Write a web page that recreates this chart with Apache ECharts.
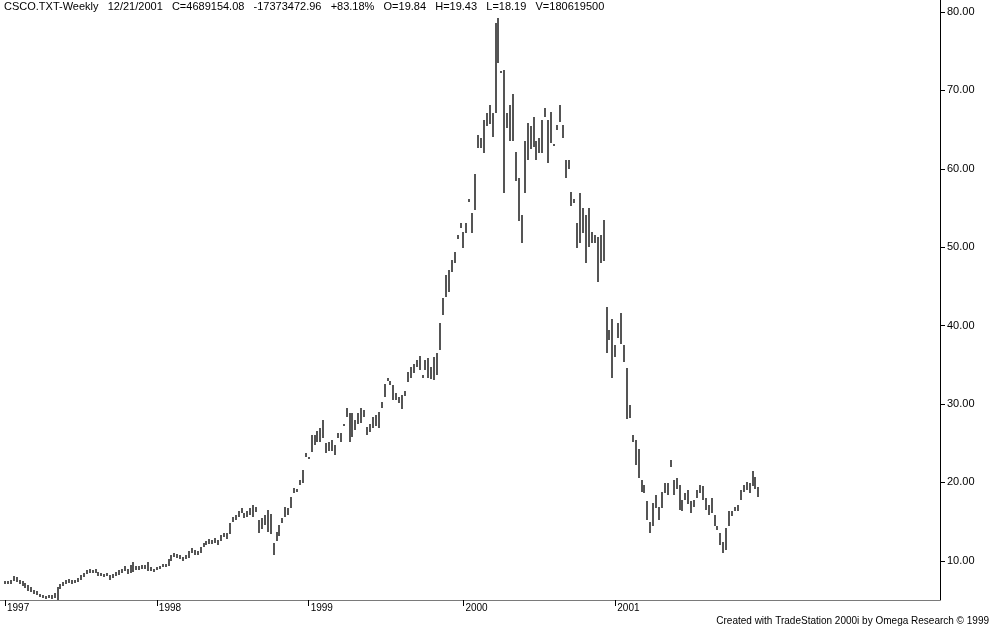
<!DOCTYPE html>
<html><head><meta charset="utf-8">
<script src="https://cdn.jsdelivr.net/npm/echarts@6/dist/echarts.min.js"></script>
<style>html,body{margin:0;padding:0;background:#fff}#c{width:991px;height:631px}</style>
</head><body><div id="c"></div>
<script>
// Year tick labels and the week index (0 = first week of 1997) where each year starts
const yearLabels = ['1997', '1998', '1999', '2000', '2001'];
const yearStartWeek = [0, 52, 104, 157, 209];
const priceTicks = [10, 20, 30, 40, 50, 60, 70, 80];

// Weekly highs (one per week, Jan 1997 .. Dec 2001)
const weekHigh = [
  // 1997
  7.4,7.4,7.6,8.0,7.9,7.6,7.4,7.2,6.9,6.6,
  6.3,6.1,5.8,5.6,5.5,5.7,5.6,5.9,6.6,7.0,
  7.3,7.6,7.7,7.5,7.6,7.8,8.2,8.5,8.8,8.9,
  8.8,8.9,8.6,8.4,8.3,8.4,8.2,8.3,8.6,8.8,
  9.0,9.3,9.0,9.5,9.8,9.4,9.3,9.5,9.5,9.9,
  9.2,9.0,
  // 1998
  9.2,9.3,9.6,9.6,10.2,10.7,11.0,10.9,10.7,10.5,
  10.8,11.2,11.6,11.4,11.2,11.8,12.3,12.5,12.8,12.6,
  12.9,12.7,13.3,13.5,13.5,14.8,15.6,15.9,16.3,16.7,
  16.1,16.3,16.7,17.1,16.9,15.2,15.5,15.9,16.5,16.0,
  12.3,13.7,14.6,15.5,16.9,16.7,18.2,19.3,19.1,20.3,
  21.6,23.8,
  // 1999
  23.3,26.0,26.0,26.5,26.9,28.0,25.0,25.2,25.4,24.8,
  26.3,26.3,27.5,29.5,28.9,28.9,28.0,28.9,29.5,29.2,
  27.1,27.5,28.4,28.6,29.0,30.3,32.5,33.3,32.9,32.4,
  31.4,30.9,31.2,31.7,34.1,34.7,35.1,35.6,36.1,33.7,
  35.6,35.9,34.7,36.0,36.5,40.3,43.5,46.4,47.1,48.4,
  49.4,51.5,53.05,
  // 2000
  51.99,53.05,56.2,54.3,59.4,64.3,63.9,66.2,67.1,68.1,
  67.1,78.55,79.2,72.5,72.6,67.1,68.1,69.6,62.2,58.8,
  54.1,63.5,65.8,65.5,66.65,63.5,63.9,66.2,67.7,66.2,
  67.3,63.1,65.6,68.1,65.6,61.1,61.1,57.1,56.2,53.05,
  56.9,54.97,54.1,54.97,51.99,51.56,51.35,51.56,53.5,42.4,
  39.45,40.9,
  // 2001
  37.5,40.3,41.57,37.5,34.6,29.9,26.1,25.4,24.2,20.3,
  19.7,17.6,15.0,17.4,18.4,16.9,18.8,19.9,19.9,22.9,
  20.3,20.5,19.7,17.8,18.6,19.0,17.6,17.8,19.0,19.7,
  19.5,18.0,17.1,18.0,15.9,14.5,13.5,12.4,14.2,16.3,
  16.3,16.9,17.1,19.0,19.7,20.1,19.9,21.4,20.7,19.43
];

// Weekly lows
const weekLow = [
  // 1997
  7.0,7.0,7.1,7.4,7.3,7.0,6.8,6.5,6.2,6.0,
  5.8,5.6,5.4,5.2,5.1,5.2,5.1,5.3,5.0,6.4,
  6.8,7.1,7.2,7.1,7.2,7.3,7.6,7.9,8.3,8.5,
  8.4,8.4,8.1,8.0,7.9,8.0,7.6,7.8,8.0,8.2,
  8.5,8.7,8.3,8.4,8.6,8.8,8.8,9.0,9.0,8.7,
  8.7,8.6,
  // 1998
  8.8,8.9,9.2,9.2,9.4,10.0,10.5,10.4,10.2,10.0,
  10.2,10.3,11.0,10.8,10.7,11.0,11.7,12.0,12.2,12.1,
  12.3,12.0,12.5,13.0,12.8,13.4,15.0,15.2,15.6,16.1,
  15.5,15.6,15.9,15.6,16.2,13.5,14.0,14.6,13.7,13.4,
  10.8,12.5,13.1,14.8,15.6,15.9,16.7,18.6,18.8,19.7,
  19.9,23.3,
  // 1999
  23.0,23.9,24.8,25.2,25.2,25.7,23.8,24.0,24.0,23.5,
  25.6,25.1,27.2,28.4,25.1,25.8,26.7,27.4,27.6,28.3,
  26.0,26.4,27.0,27.2,27.0,29.5,30.9,32.9,32.4,30.5,
  30.5,30.1,29.3,31.0,32.8,33.3,34.0,34.7,34.4,33.3,
  34.4,33.3,33.2,33.1,33.7,36.9,41.4,43.6,44.3,46.8,
  48.0,51.1,52.4,
  // 2000
  49.86,51.77,55.8,51.8,54.75,62.7,62.7,62.0,65.4,65.7,
  64.1,67.1,73.45,72.2,56.9,65.2,63.5,63.5,58.4,53.3,
  50.5,56.9,61.1,62.5,62.74,61.1,62.0,62.0,66.65,60.7,
  63.3,62.9,64.9,66.0,63.9,58.8,60.0,55.2,55.6,49.86,
  50.5,51.8,47.95,50.07,50.5,50.5,45.6,47.95,48.2,36.5,
  38.2,33.3,
  // 2001
  36.05,38.4,37.7,35.4,28.1,28.2,25.2,22.25,20.5,18.8,
  18.6,15.2,13.5,14.4,16.7,15.2,16.7,18.6,18.4,22.0,
  18.4,19.2,16.5,16.3,17.8,17.2,16.1,16.9,18.0,18.6,
  17.8,16.5,15.9,16.1,14.4,13.9,12.0,11.0,11.4,14.4,
  15.7,16.3,16.3,17.8,18.8,19.0,18.6,19.5,19.2,18.19
];

const headerText = 'CSCO.TXT-Weekly   12/21/2001   C=4689154.08   -17373472.96   +83.18%   O=19.84   H=19.43   L=18.19   V=180619500';
const footerText = 'Created with TradeStation 2000i by Omega Research \u00A9 1999';

const barData = weekHigh.map((h, i) => [i, weekLow[i], h]);

function renderBar(params, api) {
  const pHigh = api.coord([api.value(0), api.value(2)]);
  const pLow = api.coord([api.value(0), api.value(1)]);
  const x = Math.round(pHigh[0]) - 1;
  const top = Math.round(pHigh[1]);
  let bot = Math.round(pLow[1]);
  if (bot - top < 2) bot = top + 2;
  return { type: 'rect', shape: { x: x, y: top, width: 2, height: bot - top }, style: { fill: '#555555' } };
}

const chart = echarts.init(document.getElementById('c'), null, { renderer: 'canvas' });
chart.setOption({
  animation: false,
  backgroundColor: '#ffffff',
  grid: { left: 0, right: 51, top: 0, bottom: 31 },
  xAxis: {
    type: 'value',
    min: -5 / 2.92,
    max: 935 / 2.92,
    axisLine: { show: true, onZero: false, lineStyle: { color: '#7a7a7a', width: 1 } },
    axisTick: { show: true, customValues: yearStartWeek, length: 6, lineStyle: { color: '#000' } },
    axisLabel: {
      customValues: yearStartWeek,
      formatter: v => yearLabels[yearStartWeek.indexOf(v)],
      align: 'left', verticalAlign: 'top', margin: 3, padding: [0, 0, 0, 2],
      fontSize: 10, fontFamily: 'Arial, Liberation Sans, sans-serif', color: '#000'
    },
    splitLine: { show: false }
  },
  yAxis: {
    type: 'value',
    position: 'right',
    min: 5,
    max: 81.53,
    axisLine: { show: true, onZero: false, lineStyle: { color: '#000', width: 1 } },
    axisTick: { show: true, customValues: priceTicks, length: 5, lineStyle: { color: '#000' } },
    axisLabel: {
      customValues: priceTicks,
      formatter: v => v.toFixed(2),
      fontSize: 11, margin: 7, color: '#000',
      fontFamily: 'Arial, Liberation Sans, sans-serif'
    },
    splitLine: { show: false }
  },
  graphic: [
    { type: 'text', left: 4, top: 1, z: 100,
      style: { text: headerText, fontSize: 11, fontFamily: 'Arial, Liberation Sans, sans-serif', fill: '#000' } },
    { type: 'text', right: 2, top: 616, z: 100,
      style: { text: footerText, fontSize: 10, fontFamily: 'Arial, Liberation Sans, sans-serif', fill: '#000' } }
  ],
  series: [{
    type: 'custom',
    renderItem: renderBar,
    data: barData,
    encode: { x: 0, y: [1, 2] },
    clip: false
  }]
});
</script>
</body></html>
